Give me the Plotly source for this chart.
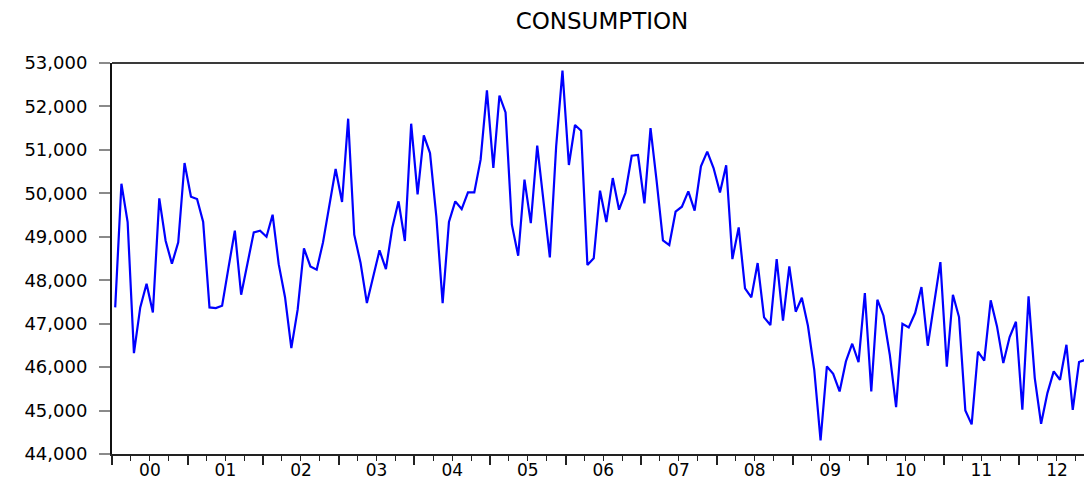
import plotly.graph_objects as go

# Monthly CONSUMPTION, Jan 2000 - Dec 2012
months = [f"{y}-{m:02d}" for y in range(2000, 2013) for m in range(1, 13)]
consumption = [
    47375, 50222, 49339, 46323, 47375, 47919, 47259, 49884, 48909, 48380, 48871, 50698,
    49922, 49869, 49339, 47375, 47360, 47413, 48280, 49140, 47666, 48400, 49101, 49140,
    49001, 49508, 48370, 47610, 46438, 47321, 48733, 48319, 48242, 48871, 49700, 50559,
    49800, 51718, 49048, 48395, 47474, 48088, 48687, 48257, 49201, 49815, 48902, 51603,
    49976, 51334, 50928, 49470, 47474, 49339, 49815, 49639, 50022, 50022, 50774, 52371,
    50583, 52248, 51864, 49278, 48564, 50314, 49316, 51097, 49792, 48526, 51081, 52823,
    50652, 51573, 51442, 48349, 48503, 50061, 49339, 50352, 49623, 50007, 50866, 50882,
    49769, 51503, 50280, 48917, 48810, 49577, 49692, 50045, 49600, 50621, 50959, 50582,
    50022, 50644, 48487, 49216, 47812, 47605, 48395, 47144, 46968, 48487, 47068, 48319,
    47275, 47597, 46952, 45939, 44312, 46016, 45847, 45440, 46131, 46538, 46116, 47705,
    45440, 47551, 47183, 46285, 45080, 46998, 46914, 47244, 47843, 46492, 47459, 48418,
    46009, 47666, 47152, 45003, 44681, 46354, 46147, 47536, 46937, 46093, 46691, 47045,
    45018, 47628, 45748, 44696, 45402, 45901, 45709, 46515, 45018, 46116, 46170, 45632,
]

year_starts = [f"{y}-01-01" for y in range(2000, 2014)]
label_pos = [f"{y}-07-02" for y in range(2000, 2013)]
year_labels = [f"{y % 100:02d}" for y in range(2000, 2013)]
x_range = ["2000-01-01", "2012-12-18"]

font_family = "DejaVu Sans"

fig = go.Figure()
fig.add_trace(go.Scatter(
    x=months, y=consumption, mode="lines",
    xperiod="M1", xperiodalignment="middle",
    line=dict(color="#0000FF", width=2.2),
    showlegend=False, hoverinfo="x+y",
))
# carrier for year labels axis
fig.add_trace(go.Scatter(x=[], y=[], xaxis="x2", showlegend=False))

fig.update_layout(
    width=1084, height=476,
    margin=dict(l=104, r=0, t=55, b=30, autoexpand=False),
    paper_bgcolor="white", plot_bgcolor="white",
    title=dict(text="CONSUMPTION", x=594 / 1084, xref="container", xanchor="center",
               y=1 - 13 / 476, yref="container", yanchor="middle", automargin=False,
               font=dict(family=font_family, size=23, color="black")),
    xaxis=dict(
        type="date", range=x_range, automargin=False,
        tickmode="array", tickvals=year_starts, showticklabels=False,
        ticks="outside", ticklen=9, tickwidth=1.5, tickcolor="#222",
        minor=dict(ticks="outside", ticklen=5, tickwidth=1.3, tickcolor="#222",
                   dtick="M3", tick0="2000-01-01", showgrid=False),
        showline=True, linecolor="#222", linewidth=2,
        showgrid=False, zeroline=False, fixedrange=True,
    ),
    xaxis2=dict(
        type="date", range=x_range, overlaying="x", anchor="y", side="bottom",
        automargin=False,
        tickmode="array", tickvals=label_pos, ticktext=year_labels,
        ticks="", showline=False, showgrid=False, zeroline=False,
        ticklabelstandoff=4,
        tickfont=dict(family=font_family, size=17, color="black"),
    ),
    yaxis=dict(
        range=[44000, 53000], tickmode="linear", tick0=44000, dtick=1000,
        tickformat=",d", automargin=False,
        ticks="outside", ticklen=11, tickwidth=1.5, tickcolor="#8a8a8a",
        ticklabelstandoff=8,
        tickfont=dict(family=font_family, size=18, color="black"),
        showline=True, linecolor="#111", linewidth=2,
        showgrid=False, zeroline=False, fixedrange=True,
    ),
    shapes=[dict(type="line", xref="paper", yref="paper", x0=0, x1=1, y0=1, y1=1,
                 line=dict(color="#3a3a3a", width=2))],
)

fig.write_html("out.html")
